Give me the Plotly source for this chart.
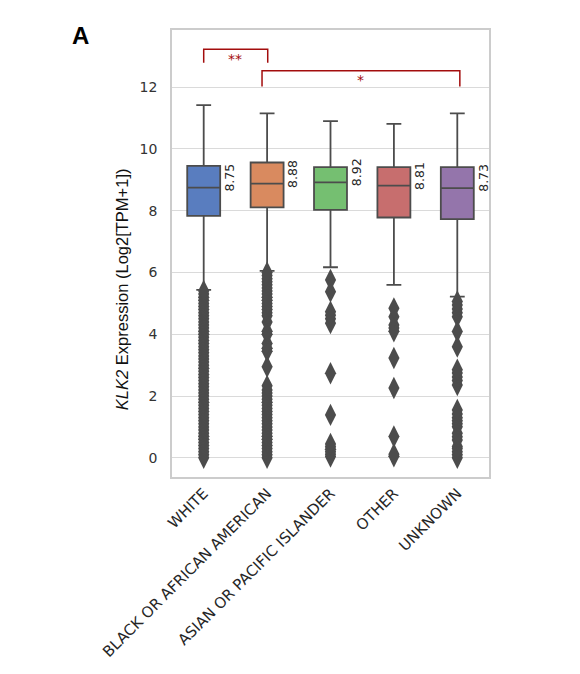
import plotly.graph_objects as go

categories = ["WHITE", "BLACK OR AFRICAN AMERICAN", "ASIAN OR PACIFIC ISLANDER", "OTHER", "UNKNOWN"]
q1 = [7.83, 8.11, 8.03, 7.78, 7.73]
median = [8.75, 8.88, 8.92, 8.81, 8.73]
q3 = [9.45, 9.56, 9.41, 9.41, 9.41]
lower_whisker = [5.44, 6.05, 6.17, 5.60, 5.22]
upper_whisker = [11.42, 11.15, 10.90, 10.81, 11.15]
median_labels = ["8.75", "8.88", "8.92", "8.81", "8.73"]

outliers_white = [0.0, 0.1, 0.2, 0.3, 0.4, 0.5, 0.6, 0.7, 0.8, 0.9, 1.0, 1.1, 1.2, 1.3, 1.4,
                  1.5, 1.6, 1.7, 1.8, 1.9, 2.0, 2.1, 2.2, 2.3, 2.4, 2.5, 2.6, 2.7, 2.8, 2.9,
                  3.0, 3.1, 3.2, 3.3, 3.4, 3.5, 3.6, 3.7, 3.8, 3.9, 4.0, 4.1, 4.2, 4.3, 4.4,
                  4.5, 4.6, 4.7, 4.8, 4.9, 5.0, 5.1, 5.2, 5.3, 5.4]
outliers_black = [0.0, 0.1, 0.2, 0.3, 0.4, 0.5, 0.6, 0.7, 0.8, 0.9, 1.0, 1.1, 1.2, 1.3, 1.4,
                  1.5, 1.6, 1.7, 1.8, 1.9, 2.0, 2.1, 2.2, 2.33, 2.95, 3.45, 3.55, 3.7, 4.0,
                  4.1, 4.4, 4.6, 4.7, 4.8, 4.9, 5.0, 5.1, 5.2, 5.3, 5.4, 5.5, 5.6, 5.7, 5.8,
                  5.9, 6.0]
outliers_asian = [0.04, 0.12, 0.2, 0.28, 0.36, 0.45, 1.39, 2.74, 4.36, 4.5, 4.62, 4.73, 5.38, 5.76]
outliers_other = [0.05, 0.12, 0.69, 2.26, 3.23, 4.1, 4.2, 4.3, 4.57, 4.84]
outliers_unknown = [0.0, 0.1, 0.2, 0.3, 0.37, 0.58, 0.68, 0.8, 1.01, 1.1, 1.2, 1.3, 1.42, 1.55,
                    2.36, 2.5, 2.62, 2.75, 2.85, 3.6, 4.09, 4.57, 4.7, 4.82, 4.95, 5.06]
outliers = [outliers_white, outliers_black, outliers_asian, outliers_other, outliers_unknown]

colors = ["#597dbf", "#d98a5f", "#75bf71", "#c76e6e", "#9475ab"]
line_color = "#4c4c4c"

fig = go.Figure()
for i, cat in enumerate(categories):
    fig.add_trace(go.Box(
        x=[i], q1=[q1[i]], median=[median[i]], q3=[q3[i]],
        lowerfence=[lower_whisker[i]], upperfence=[upper_whisker[i]],
        fillcolor=colors[i], line=dict(color=line_color, width=1.8),
        width=0.52, whiskerwidth=0.45, boxpoints=False, showlegend=False,
        hoverinfo="skip",
    ))
    fig.add_trace(go.Scatter(
        x=[i] * len(outliers[i]), y=outliers[i], mode="markers",
        marker=dict(symbol="diamond-tall", size=16, color=line_color,
                    line=dict(width=0)),
        showlegend=False, hoverinfo="skip",
    ))
    fig.add_annotation(
        x=i + 0.4, y=median[i], text=median_labels[i], textangle=-90,
        showarrow=False, xanchor="center", yanchor="middle", yshift=10,
        font=dict(family="DejaVu Sans", size=12.5, color="#262626"),
    )

red = "#a30d0d"
# significance brackets
fig.add_shape(type="path", path="M 0.0,12.79 L 0.0,13.23 L 1.01,13.23 L 1.01,12.79",
              line=dict(color=red, width=1.5), xref="x", yref="y")
fig.add_annotation(x=0.5, y=12.92, text="**", showarrow=False,
                   font=dict(family="DejaVu Sans", size=14, color=red))
fig.add_shape(type="path", path="M 0.92,12.02 L 0.92,12.53 L 4.04,12.53 L 4.04,12.02",
              line=dict(color=red, width=1.5), xref="x", yref="y")
fig.add_annotation(x=2.48, y=12.22, text="*", showarrow=False,
                   font=dict(family="DejaVu Sans", size=14, color=red))

fig.add_annotation(xref="paper", yref="paper", x=-0.158, y=0.42,
                   text="<i>KLK2</i> Expression (Log2[TPM+1])", textangle=-90,
                   showarrow=False, xanchor="center", yanchor="middle",
                   font=dict(family="Liberation Sans, Arial", size=16.5, color="#111111"))
fig.add_annotation(xref="paper", yref="paper", x=-0.29, y=0.987,
                   text="<b>A</b>", showarrow=False, xanchor="center", yanchor="middle",
                   font=dict(family="Liberation Sans, Arial", size=24, color="#000000"))

fig.update_layout(
    width=580, height=674,
    margin=dict(l=172, r=91, t=30, b=197),
    paper_bgcolor="white", plot_bgcolor="white",
    font=dict(family="DejaVu Sans", size=13, color="#333333"),
)
fig.update_xaxes(
    range=[-0.5, 4.5], tickvals=list(range(len(categories))), ticktext=categories,
    tickangle=-45, showgrid=False, zeroline=False, ticks="",
    showline=True, linecolor="#cccccc", linewidth=1.5, mirror=True,
    tickfont=dict(family="DejaVu Sans", size=15, color="#262626"),
)
fig.update_yaxes(
    range=[-0.62, 13.85], tickvals=[0, 2, 4, 6, 8, 10, 12],
    showgrid=True, gridcolor="#dadada", gridwidth=1.2, zeroline=False, ticks="",
    showline=True, linecolor="#cccccc", linewidth=1.5, mirror=True,
    tickfont=dict(family="DejaVu Sans", size=14, color="#333333"), ticklabelstandoff=10,
)

fig.write_html("out.html")
